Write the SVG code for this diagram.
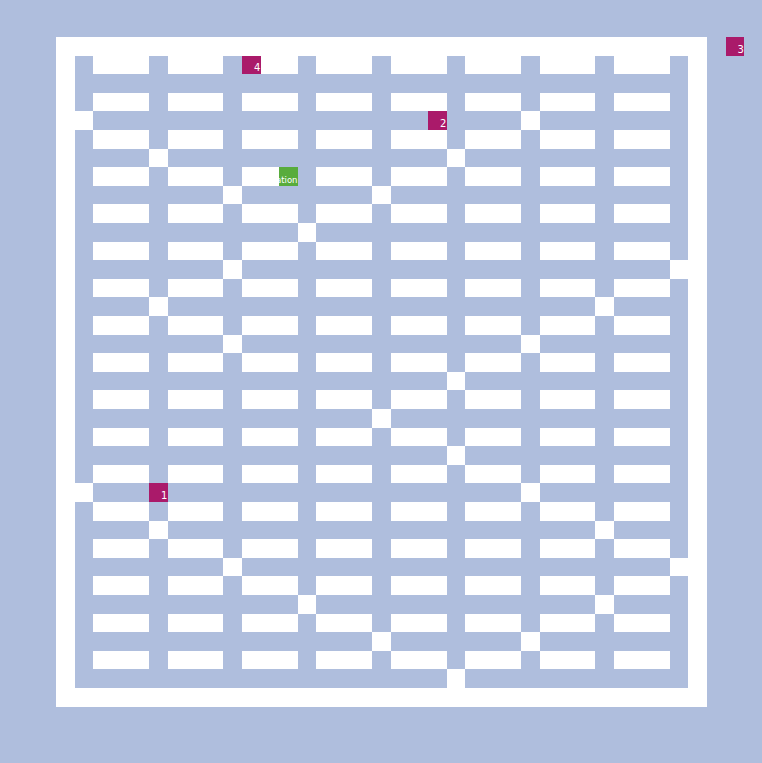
<svg xmlns="http://www.w3.org/2000/svg" xmlns:xlink="http://www.w3.org/1999/xlink" width="762" height="763" viewBox="0 0 762 763">
<style>
rect{shape-rendering:crispEdges}
.bg{fill:#afbedd}
.w{fill:#ffffff}
.tgt{fill:#aa1a6a}
.sta{fill:#58ac3c}
.lbl{font-family:"DejaVu Sans",sans-serif;font-size:10px;fill:#ffffff;text-anchor:end}
.lbl2{font-family:"DejaVu Sans",sans-serif;font-size:8.5px;fill:#ffffff;text-anchor:end}
</style>
<defs>
<g id="shelfRow" class="w">
<rect x="93.2" y="0" width="55.8" height="18.6"/>
<rect x="167.6" y="0" width="55.8" height="18.6"/>
<rect x="242" y="0" width="55.8" height="18.6"/>
<rect x="316.4" y="0" width="55.8" height="18.6"/>
<rect x="390.8" y="0" width="55.8" height="18.6"/>
<rect x="465.2" y="0" width="55.8" height="18.6"/>
<rect x="539.6" y="0" width="55.8" height="18.6"/>
<rect x="614" y="0" width="55.8" height="18.6"/>
</g>
<rect id="cell" class="w" width="18.6" height="18.6"/>
</defs>
<rect class="bg" x="0" y="0" width="762" height="763"/>
<g id="frame">
<rect class="w" x="56" y="37" width="651" height="669.6"/>
<rect class="bg" x="74.6" y="55.6" width="613.8" height="632.4"/>
</g>
<g id="shelves">
<use xlink:href="#shelfRow" y="55.6"/>
<use xlink:href="#shelfRow" y="92.8"/>
<use xlink:href="#shelfRow" y="130"/>
<use xlink:href="#shelfRow" y="167.2"/>
<use xlink:href="#shelfRow" y="204.4"/>
<use xlink:href="#shelfRow" y="241.6"/>
<use xlink:href="#shelfRow" y="278.8"/>
<use xlink:href="#shelfRow" y="316"/>
<use xlink:href="#shelfRow" y="353.2"/>
<use xlink:href="#shelfRow" y="390.4"/>
<use xlink:href="#shelfRow" y="427.6"/>
<use xlink:href="#shelfRow" y="464.8"/>
<use xlink:href="#shelfRow" y="502"/>
<use xlink:href="#shelfRow" y="539.2"/>
<use xlink:href="#shelfRow" y="576.4"/>
<use xlink:href="#shelfRow" y="613.6"/>
<use xlink:href="#shelfRow" y="650.8"/>
</g>
<g id="openings">
<use xlink:href="#cell" x="74.6" y="111.4"/>
<use xlink:href="#cell" x="521" y="111.4"/>
<use xlink:href="#cell" x="149" y="148.6"/>
<use xlink:href="#cell" x="446.6" y="148.6"/>
<use xlink:href="#cell" x="223.4" y="185.8"/>
<use xlink:href="#cell" x="372.2" y="185.8"/>
<use xlink:href="#cell" x="297.8" y="223"/>
<use xlink:href="#cell" x="223.4" y="260.2"/>
<use xlink:href="#cell" x="669.8" y="260.2"/>
<use xlink:href="#cell" x="149" y="297.4"/>
<use xlink:href="#cell" x="595.4" y="297.4"/>
<use xlink:href="#cell" x="223.4" y="334.6"/>
<use xlink:href="#cell" x="521" y="334.6"/>
<use xlink:href="#cell" x="446.6" y="371.8"/>
<use xlink:href="#cell" x="372.2" y="409"/>
<use xlink:href="#cell" x="446.6" y="446.2"/>
<use xlink:href="#cell" x="74.6" y="483.4"/>
<use xlink:href="#cell" x="521" y="483.4"/>
<use xlink:href="#cell" x="149" y="520.6"/>
<use xlink:href="#cell" x="595.4" y="520.6"/>
<use xlink:href="#cell" x="223.4" y="557.8"/>
<use xlink:href="#cell" x="669.8" y="557.8"/>
<use xlink:href="#cell" x="297.8" y="595"/>
<use xlink:href="#cell" x="595.4" y="595"/>
<use xlink:href="#cell" x="372.2" y="632.2"/>
<use xlink:href="#cell" x="521" y="632.2"/>
<use xlink:href="#cell" x="446.6" y="669.4"/>
</g>
<g id="target4">
<rect class="tgt" x="242" y="55.6" width="18.6" height="18.6"/>
<text class="lbl" x="260.3" y="71.3">4</text>
</g>
<g id="target2">
<rect class="tgt" x="428" y="111.4" width="18.6" height="18.6"/>
<text class="lbl" x="446.3" y="127.1">2</text>
</g>
<g id="target3">
<rect class="tgt" x="725.6" y="37" width="18.6" height="18.6"/>
<text class="lbl" x="743.9" y="52.7">3</text>
</g>
<g id="target1">
<rect class="tgt" x="149" y="483.4" width="18.6" height="18.6"/>
<text class="lbl" x="167.3" y="499.1">1</text>
</g>
<g id="station">
<rect class="sta" x="279.2" y="167.2" width="18.6" height="18.6"/>
<text class="lbl2" x="297.5" y="183">ation</text>
</g>
</svg>
